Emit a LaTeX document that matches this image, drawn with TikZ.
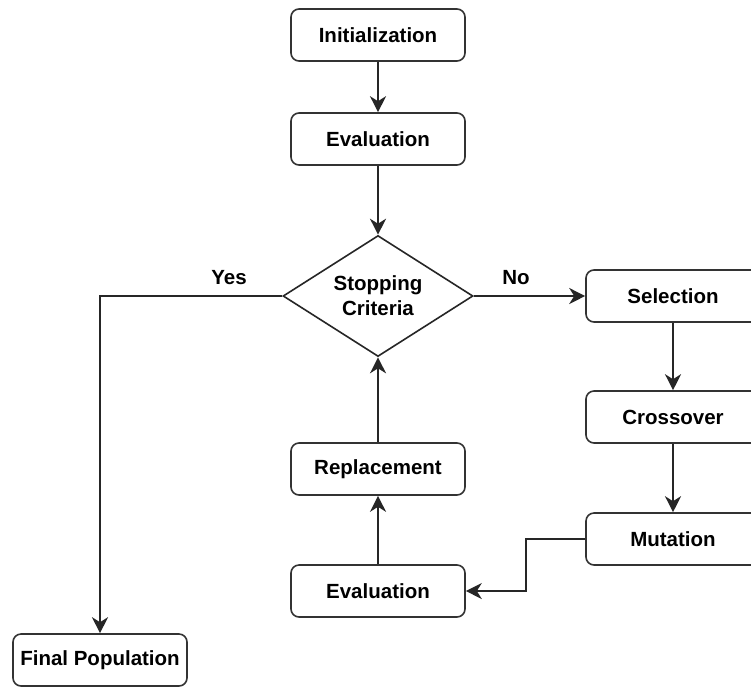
\documentclass[tikz,border=0pt]{standalone}
\usepackage{fontspec}
\setmainfont{Liberation Sans}
\usetikzlibrary{shapes.geometric,arrows.meta}
\begin{document}
\begin{tikzpicture}[x=1pt,y=-1pt,
  every node/.style={font=\fontsize{20.5}{25}\selectfont\bfseries},
  box/.style={draw=black!80, line width=1.6pt, rounded corners=8pt, fill=white,
    minimum width=174pt, minimum height=52pt, inner sep=0pt},
  decision/.style={draw=black!85, line width=1.6pt, diamond, fill=white, inner sep=0pt,
    minimum width=190pt, minimum height=121pt},
  conn/.style={draw=black!85, line width=1.6pt, -{Stealth[length=16pt,width=16pt,inset=5pt]}},
  lbl/.style={inner sep=0pt, align=center}]
\clip (0,0) rectangle (751,686);
\fill[white] (0,0) rectangle (751,686);
\node[box] (init) at (378,35) {Initialization};
\node[box] (eval1) at (378,139) {Evaluation};
\node[decision] (stop) at (378,296) {};
\node[lbl] (stoptxt) at (stop.center) {Stopping\\Criteria};
\node[box] (sel) at (673,296) {Selection};
\node[box] (cross) at (673,417) {Crossover};
\node[box] (mut) at (673,539) {Mutation};
\node[box] (eval2) at (378,591) {Evaluation};
\node[box] (repl) at (378,469) {Replacement};
\node[box] (final) at (100,660) {Final Population};
\coordinate (yesc) at (100,296);
\coordinate (mutA) at (526,539);
\coordinate (mutB) at (526,591);
\node[lbl] (yes) at (229,278) {Yes};
\node[lbl] (no) at (516,278) {No};
\draw[conn] (init) -- (eval1);
\draw[conn] (eval1) -- (stop.north);
\draw[conn] (stop.west) -- (yesc) -- (final);
\draw[conn] (stop.east) -- (sel);
\draw[conn] (sel) -- (cross);
\draw[conn] (cross) -- (mut);
\draw[conn] (mut.west) -- (mutA) -- (mutB) -- (eval2.east);
\draw[conn] (eval2) -- (repl);
\draw[conn] (repl) -- (stop.south);
\end{tikzpicture}
\end{document}
